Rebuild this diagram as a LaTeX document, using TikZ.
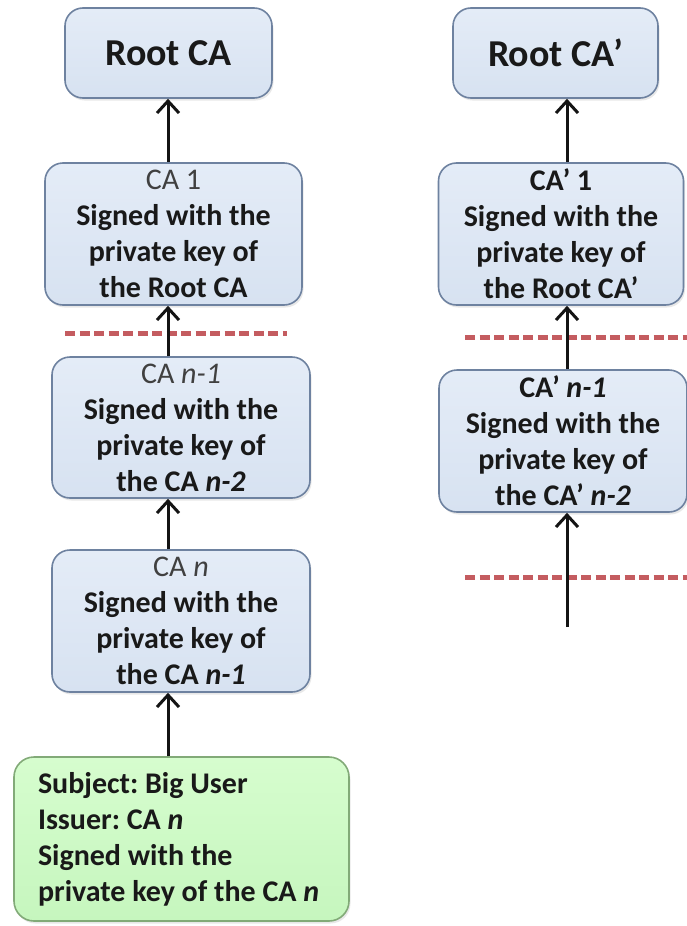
\documentclass[tikz,border=0pt]{standalone}
\usepackage{fontspec}
\setmainfont{Carlito}
\usetikzlibrary{arrows.meta,shadows}

\definecolor{boxtop}{RGB}{228,236,247}
\definecolor{boxbot}{RGB}{215,226,241}
\definecolor{boxedge}{RGB}{110,130,160}
\definecolor{usertop}{RGB}{214,253,206}
\definecolor{userbot}{RGB}{198,246,190}
\definecolor{useredge}{RGB}{130,170,120}
\definecolor{cutred}{RGB}{196,92,96}
\definecolor{softgray}{RGB}{64,64,64}
\definecolor{inkblack}{RGB}{20,20,20}

\newcommand\bodyfont{\fontsize{30}{36}\selectfont\bfseries\frenchspacing}
\newcommand\headfont{\fontsize{38}{44}\selectfont\bfseries}
\newcommand\plainhead[1]{{\mdseries\color{softgray}#1}}

\tikzset{
  cabox/.style={draw=boxedge, line width=1.6pt, rounded corners=18pt,
    top color=boxtop, bottom color=boxbot, inner sep=0pt, align=center,
    text=black!90, font=\bodyfont,
    drop shadow={opacity=0.18, shadow xshift=1.5pt, shadow yshift=-2.5pt}},
  userbox/.style={draw=useredge, line width=1.6pt, rounded corners=20pt,
    top color=usertop, bottom color=userbot, inner sep=0pt, align=flush left,
    text=black!90, font=\bodyfont,
    drop shadow={opacity=0.18, shadow xshift=1.5pt, shadow yshift=-2.5pt}},
  chainarrow/.style={draw=inkblack, line width=3pt,
    -{Straight Barb[length=12pt,width=22pt]}},
  cutline/.style={line width=5pt, cutred, dash pattern=on 10pt off 4.5pt}
}

\begin{document}
\begin{tikzpicture}[x=1pt,y=-1pt]
\useasboundingbox (0,0) rectangle (687,926);

% left chain
\node[cabox, minimum width=207pt, minimum height=90pt, font=\headfont] (root) at (168.5,53) {Root CA};
\node[cabox, minimum width=257pt, minimum height=142pt] (ca1) at (173.5,234)
  {\plainhead{CA 1}\\Signed with the\\private key of\\the Root CA};
\node[cabox, minimum width=258pt, minimum height=141pt] (can1) at (181,427.5)
  {\plainhead{CA \textit{n-1}}\\Signed with the\\private key of\\the CA \textit{n-2}};
\node[cabox, minimum width=258pt, minimum height=142pt] (can) at (181,621)
  {\plainhead{CA \textit{n}}\\Signed with the\\private key of\\the CA \textit{n-1}};
\node[userbox, minimum width=335pt, minimum height=164pt, text width=287pt] (user) at (181.5,839)
  {Subject: Big User\\Issuer: CA \textit{n}\\Signed with the\\private key of the CA \textit{n}};

% right chain
\node[cabox, minimum width=205pt, minimum height=90pt, font=\headfont] (rroot) at (555.5,53) {Root CA’};
\node[cabox, minimum width=245pt, minimum height=142pt] (rca1) at (561,234)
  {CA’ 1\\Signed with the\\private key of\\the Root CA’};
\node[cabox, minimum width=248pt, minimum height=142pt] (rcan1) at (563,441)
  {CA’ \textit{n-1}\\Signed with the\\private key of\\the CA’ \textit{n-2}};

% cut marks between levels
\coordinate (lcutA) at (65,333);
\coordinate (lcutB) at (287,333);
\coordinate (rcutA) at (465,337);
\coordinate (rcutB) at (690,337);
\coordinate (rcutC) at (465,577);
\coordinate (rcutD) at (690,577);
\draw[cutline] (lcutA) -- (lcutB);
\draw[cutline] (rcutA) -- (rcutB);
\draw[cutline] (rcutC) -- (rcutD);

% signing arrows
\coordinate (lx) at (168,0);
\coordinate (rx) at (567,0);
\coordinate (rtail) at (567,627);
\draw[chainarrow] (ca1.north -| lx) -- (root.south -| lx);
\draw[chainarrow] (can1.north -| lx) -- (ca1.south -| lx);
\draw[chainarrow] (can.north -| lx) -- (can1.south -| lx);
\draw[chainarrow] (user.north -| lx) -- (can.south -| lx);
\draw[chainarrow] (rca1.north -| rx) -- (rroot.south -| rx);
\draw[chainarrow] (rcan1.north -| rx) -- (rca1.south -| rx);
\draw[chainarrow] (rtail) -- (rcan1.south -| rx);
\end{tikzpicture}
\end{document}
